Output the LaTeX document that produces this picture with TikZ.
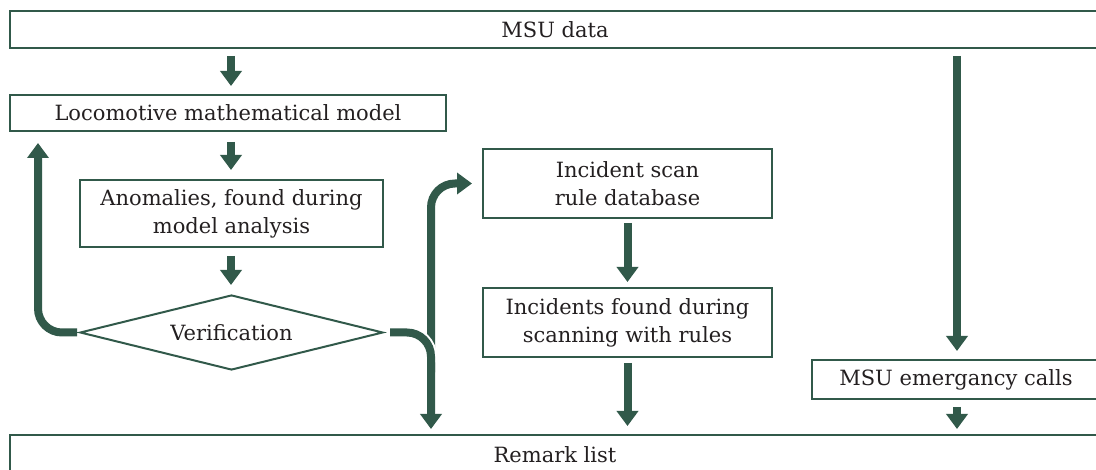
\documentclass[tikz,border=0pt]{standalone}
\usepackage{fontspec}
\setmainfont{DejaVu Serif}
\usetikzlibrary{arrows.meta,shapes.geometric}
\definecolor{dg}{RGB}{49,89,74}
\definecolor{tx}{RGB}{35,31,32}
\begin{document}
\begin{tikzpicture}[x=1pt,y=-1pt,
  box/.style={draw=dg,line width=2pt,rectangle,inner sep=0pt,text=tx,align=center,
    font=\fontsize{21}{28}\selectfont},
  dia/.style={draw=dg,line width=2pt,diamond,aspect=4.04,inner sep=0pt,text=tx,
    font=\fontsize{21}{28}\selectfont},
  bigarrow/.style={draw=dg,line width=8pt,-{Triangle[width=21pt,length=15pt]}},
  flowline/.style={draw=dg,line width=8pt,rounded corners=24pt,-{Triangle[width=21pt,length=15pt]}},
  whiteedge/.style={draw=white,line width=12pt,rounded corners=24pt}]
\useasboundingbox (0,0) rectangle (1096,470);
\node[box,minimum width=1090pt,minimum height=37pt] (msu) at (555,29.5) {MSU data};
\node[box,minimum width=436pt,minimum height=36pt] (loco) at (228,113) {Locomotive mathematical model};
\node[box,minimum width=303pt,minimum height=67pt] (anom) at (231.5,213.5) {Anomalies, found during\\model analysis};
\node[dia,minimum width=303pt,minimum height=75pt] (verif) at (231.5,332.5) {Verification};
\node[box,minimum width=289pt,minimum height=69pt] (rule) at (627.5,183.5) {Incident scan\\rule database};
\node[box,minimum width=289pt,minimum height=69pt] (found) at (627.5,322.5) {Incidents found during\\scanning with rules};
\node[box,minimum width=288pt,minimum height=39pt] (calls) at (956,379.5) {MSU emergancy calls};
\node[box,minimum width=1090pt,minimum height=40pt] (remark) at (555,455) {Remark list};
\coordinate (ax) at (231,0);
\coordinate (cx) at (957,0);
\coordinate (lx) at (38,0);
\coordinate (rx) at (431,0);
% straight arrows
\draw[bigarrow] ([yshift=-7pt]ax |- msu.south) -- ([yshift=8pt]ax |- loco.north);
\draw[bigarrow] ([yshift=-10pt]ax |- loco.south) -- ([yshift=9pt]ax |- anom.north);
\draw[bigarrow] ([yshift=-8pt]ax |- anom.south) -- ([yshift=9pt]ax |- verif.north);
\draw[bigarrow] ([yshift=-4pt]rule.south) -- ([yshift=5pt]found.north);
\draw[bigarrow] ([yshift=-5pt]found.south) -- ([yshift=8pt]found.south |- remark.north);
\draw[bigarrow] ([yshift=-7pt]cx |- msu.south) -- ([yshift=8pt]cx |- calls.north);
\draw[bigarrow] ([yshift=-7pt]cx |- calls.south) -- ([yshift=5pt]cx |- remark.north);
% loops
\draw[flowline] ([xshift=-2pt]verif.west) -| ([yshift=-11pt]lx |- loco.south);
\coordinate (bstart) at ([yshift=-40pt]rx |- verif.east);
\draw[flowline] (bstart) |- ([xshift=-10pt]rule.west);
\draw[whiteedge] ([xshift=6pt]verif.east) -| ([yshift=-30pt]rx |- verif.east);
\draw[flowline] ([xshift=6pt]verif.east) -| ([yshift=5pt]rx |- remark.north);
\end{tikzpicture}
\end{document}
